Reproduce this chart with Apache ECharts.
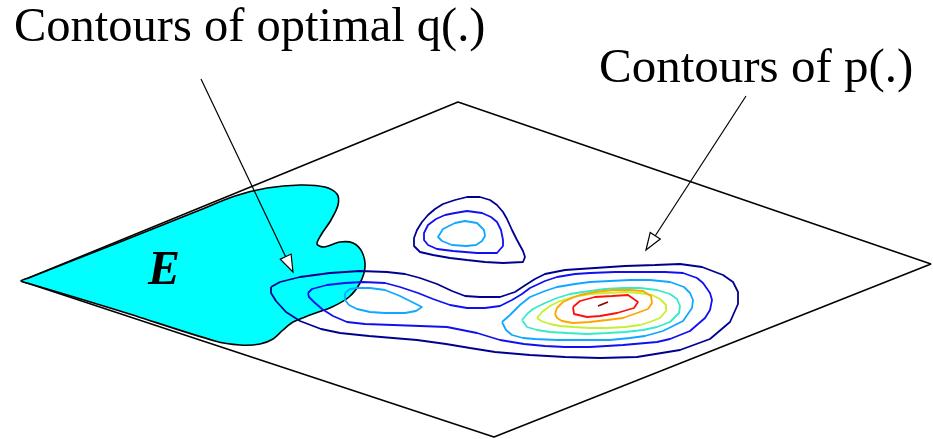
<!DOCTYPE html>
<html>
<head>
<meta charset="utf-8">
<script src="https://cdn.jsdelivr.net/npm/echarts@6/dist/echarts.min.js"></script>
<style>
html,body{margin:0;padding:0;background:#fff;}
#chart{width:933px;height:439px;}
</style>
</head>
<body>
<div id="chart"></div>
<script>
// ---- data (picture coordinate space: x 0..933, y 0..439 downwards) ----
const labelQ = 'Contours of optimal q(.)';
const labelP = 'Contours of p(.)';
const labelE = 'E';

const plane = [[21,281],[458,102],[931,264],[494,437],[21,281]];

const regionE = [[21,281],[28,278.2],[120,242],[200,210],[235,196],[267,188],[300,185],[325,187],[337,194],
  [338,205],[331,220],[321,235],[317,244],[324,247],[340,242],[353,243],[362,252],[365,267],[360,283],
  [349,297],[332,307],[310,315],[293,322],[283,330],[273,339],[260,344],[240,345],[215,341],[120,311],[28,283.3]];
const labelEPos = [[164,271.5]];

const contourOuter = [[271,287],[280,282],[300,277],[330,273],[360,271],[387,272],[405,274],[420,278],[437,284],
  [452,291],[465,296],[480,297],[500,297],[515,292],[524,286],[535,279],[545,274],[565,270],[595,268],[625,266],
  [655,265],[680,264],[702,267],[723,275],[733,282],[738,292],[738,304],[730,322],[710,339],[680,350],[637,357],
  [600,358],[565,357],[530,355],[495,352],[470,348],[446,344],[417,340],[393,338],[369,336],[340,333],[321,329],
  [300,321],[286,312],[276,301],[271,293],[271,287]];
const contourBlue = [[308,293],[312,289],[327,285],[345,283],[363,282],[385,283],[400,287],[418,293],[433,299],
  [450,305],[467,308],[485,308],[500,306],[512,300],[522,294],[530,288],[545,281],[557,277],[575,274],[590,273],
  [615,272],[640,272],[665,272],[683,273],[697,278],[703,283],[710,293],[712,300],[710,310],[705,318],[690,331],
  [670,339],[657,342],[623,345],[590,347],[565,347],[545,346],[524,344],[500,340],[477,333],[447,327],[420,326],
  [393,325],[365,324],[347,322],[333,316],[322,309],[314,302],[309,297],[308,293]];
const contourLightLeft = [[345,293],[350,289],[357,288],[370,288],[385,290],[400,296],[412,302],[422,307],[416,311],
  [405,313],[385,313],[370,312],[357,309],[349,305],[345,300],[345,293]];
const contourLightRight = [[502,322],[510,315],[520,305],[530,297],[545,291],[557,287],[575,284],[590,282],[610,281],
  [630,280],[650,280],[670,282],[684,287],[690,293],[693,300],[692,308],[683,321],[663,331],[645,336],[630,338],
  [610,340],[590,340],[557,340],[535,339],[523,338],[512,335],[506,330],[502,322]];
const contourTeal = [[522,320],[527,314],[533,309],[545,303],[557,298],[570,294],[583,292],[605,289],[623,288],
  [640,288],[657,290],[670,294],[677,299],[680,306],[679,313],[670,322],[657,327],[643,330],[625,332],[607,333],
  [587,334],[567,333],[550,332],[537,330],[527,327],[522,320]];
const contourYellow = [[537,318],[542,312],[550,306],[560,301],[573,297],[590,294],[607,293],[625,292],[640,293],
  [652,295],[660,299],[666,305],[666,311],[660,318],[650,322],[640,325],[625,327],[607,328],[590,328],[573,327],
  [560,326],[550,324],[541,321],[537,318]];
const contourOrange = [[555,314],[557,308],[563,302],[572,298],[580,295],[595,292],[613,290],[630,290],[643,291],
  [651,296],[652,303],[648,309],[637,313],[623,318],[607,320],[590,322],[573,323],[562,321],[557,318],[555,314]];
const contourRed = [[573,307],[580,301],[595,297],[612,296],[628,295],[638,302],[634,308],[617,313],[600,316],
  [587,317],[574,314],[573,307]];
const contourPeak = [[598,306],[608,302]];

const topOuter = [[480,197],[490,200],[497,205],[503,212],[507,219],[512,230],[517,240],[523,251],[525,257],[523,262],
  [503,263],[485,262],[467,260],[450,258],[433,255],[420,252],[414,246],[414,238],[417,230],[422,222],[428,215],
  [435,209],[443,204],[455,200],[467,197],[480,197]];
const topMiddle = [[445,215],[455,213],[467,211],[482,213],[491,217],[497,222],[501,230],[503,240],[503,246],[497,253],
  [477,253],[453,251],[437,249],[428,245],[424,240],[424,233],[428,225],[436,219],[445,215]];
const topInner = [[455,223],[465,221],[477,223],[484,230],[485,236],[482,241],[476,245],[466,246],[452,245],[442,241],
  [438,237],[443,229],[455,223]];

const arrows = [[201,79,293,272],[746,96,646,250]];

// ---- chart ----
const chart = echarts.init(document.getElementById('chart'));

function contour(data, color, z) {
  return {type:'line', data:data, symbol:'none', silent:true, z:z||5,
    lineStyle:{color:color, width:1.8}, animation:false};
}

const option = {
  animation:false,
  backgroundColor:'#ffffff',
  grid:{left:0,right:0,top:0,bottom:0},
  xAxis:{type:'value', min:0, max:933, show:false},
  yAxis:{type:'value', min:0, max:439, inverse:true, show:false},
  series:[
    {type:'line', data:plane, symbol:'none', silent:true, z:1,
     lineStyle:{color:'#000', width:1.5}},
    {type:'custom', silent:true, z:2, clip:false,
     data:[regionE[0]],
     renderItem:function(params, api){
       return {type:'polygon', shape:{points:regionE.map(p=>api.coord(p)), smooth:0.3},
         style:{fill:'#00FFFF', stroke:'#000', lineWidth:1.6}};
     }},
    {type:'scatter', data:labelEPos, symbolSize:1, silent:true, z:3,
     itemStyle:{color:'rgba(0,0,0,0)'},
     label:{show:true, position:'inside', formatter:labelE, color:'#000',
       textBorderWidth:0, textBorderColor:'transparent', opacity:1,
       fontFamily:'Liberation Serif', fontWeight:'bold', fontStyle:'italic', fontSize:48}},
    contour(contourOuter, '#000090'),
    contour(contourBlue, '#1010F0'),
    contour(contourLightLeft, '#10A8FF'),
    contour(contourLightRight, '#10A8FF'),
    contour(contourTeal, '#36EAC8'),
    contour(contourYellow, '#C4F030'),
    contour(contourOrange, '#FFA500'),
    contour(contourRed, '#FF1010'),
    contour(contourPeak, '#8B0000'),
    contour(topOuter, '#000090'),
    contour(topMiddle, '#1010F0'),
    contour(topInner, '#10A8FF'),
    {type:'custom', silent:true, z:10, clip:false,
     data:arrows,
     renderItem:function(params, api){
       const a = api.coord([api.value(0), api.value(1)]);
       const b = api.coord([api.value(2), api.value(3)]);
       const dx = b[0]-a[0], dy = b[1]-a[1];
       const len = Math.sqrt(dx*dx+dy*dy);
       const ux = dx/len, uy = dy/len;
       const hl = 17, hw = 6;
       const bx = b[0]-ux*hl, by = b[1]-uy*hl;
       return {type:'group', children:[
         {type:'line', shape:{x1:a[0], y1:a[1], x2:bx, y2:by}, style:{stroke:'#000', lineWidth:1.2}},
         {type:'polygon', shape:{points:[[b[0],b[1]],[bx-uy*hw, by+ux*hw],[bx+uy*hw, by-ux*hw]]},
          style:{fill:'#fff', stroke:'#000', lineWidth:1.2}}
       ]};
     }}
  ],
  graphic:[
    {type:'text', left:14, top:4, silent:true,
     style:{text:labelQ, font:'48.5px "Liberation Serif"', fill:'#000'}},
    {type:'text', left:599, top:45, silent:true,
     style:{text:labelP, font:'49px "Liberation Serif"', fill:'#000'}}
  ]
};
chart.setOption(option);
</script>
</body>
</html>
